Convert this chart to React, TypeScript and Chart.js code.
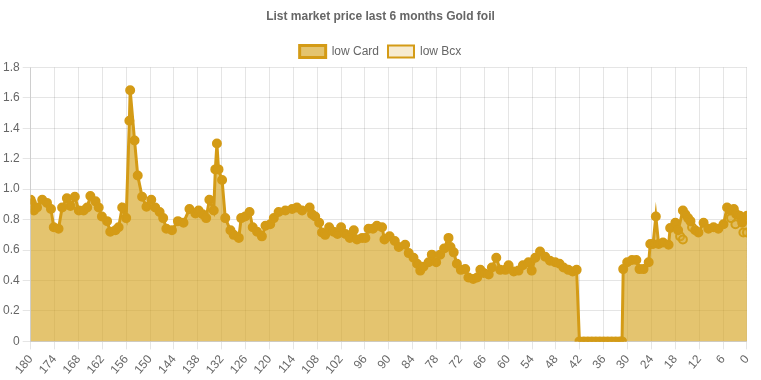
import React, { useEffect, useRef } from "react";
import { Chart, registerables } from "chart.js";

Chart.register(...registerables);

const TITLE = "List market price last 6 months Gold foil";
const SERIES_NAMES = ["low Card", "low Bcx"];

// days ago (x) and price (y) for low Card
const cardDays = [
  180, 179.7, 179.2, 178.4, 177.1, 175.9, 174.9, 174.2, 173.0, 172.1, 170.9, 170.0, 168.9, 167.9, 166.7, 165.8,
  165.0, 163.7, 162.9, 162.1, 160.8, 160.0, 158.7, 157.9, 157.0, 156.0, 155.2, 155.0, 153.9, 153.1, 152.0, 150.9,
  149.7, 148.7, 147.6, 146.7, 145.9, 144.5, 143.0, 141.6, 140.1, 138.6, 137.8, 136.8, 135.9, 135.1, 134.0, 133.6,
  133.2, 132.8, 131.9, 131.1, 129.8, 129.0, 127.7, 127.1, 126.1, 125.0, 124.2, 123.1, 121.9, 121.0, 119.8, 118.9,
  117.7, 116.0, 114.3, 113.1, 111.8, 109.9, 109.3, 108.5, 107.5, 106.8, 106.0, 105.0, 103.9, 102.9, 102.0, 100.9,
  99.8, 98.8, 98.0, 96.7, 95.9, 95.1, 94.0, 93.0, 91.7, 91.1, 89.8, 88.5, 87.5, 85.9, 85.0, 83.8,
  82.9, 82.1, 81.3, 80.0, 79.2, 78.1, 77.1, 76.1, 75.0, 74.5, 73.7, 72.9, 71.9, 70.8, 70.0, 68.8,
  67.8, 67.0, 66.2, 64.9, 64.1, 63.0, 62.0, 60.7, 59.9, 58.6, 57.4, 56.3, 54.9, 54.1, 53.2, 52.0,
  50.7, 49.5, 48.2, 47.1, 46.1, 44.9, 43.8, 42.8, 42.1, 41.0, 40.0, 39.0, 38.0, 37.0, 36.0, 35.0,
  34.0, 33.0, 32.0, 31.4, 31.1, 30.1, 28.9, 27.8, 27.0, 26.0, 24.7, 24.3, 23.6, 22.9, 22.2, 21.1,
  19.7, 19.3, 18.0, 17.3, 16.1, 15.5, 14.8, 14.2, 13.0, 12.2, 10.9, 9.7, 8.4, 7.2, 5.9, 5.0,
  4.2, 3.3, 2.7, 1.8, 1.2, 0,
];
const cardPrices = [
  0.93, 0.91, 0.86, 0.88, 0.93, 0.91, 0.87, 0.75, 0.74, 0.88, 0.94, 0.89, 0.95, 0.86, 0.86, 0.88,
  0.955, 0.92, 0.88, 0.82, 0.79, 0.72, 0.73, 0.75, 0.88, 0.81, 1.45, 1.65, 1.32, 1.09, 0.95, 0.885,
  0.93, 0.88, 0.85, 0.81, 0.74, 0.73, 0.79, 0.78, 0.87, 0.84, 0.86, 0.835, 0.81, 0.93, 0.86, 1.13,
  1.3, 1.13, 1.06, 0.81, 0.73, 0.7, 0.68, 0.81, 0.82, 0.85, 0.75, 0.72, 0.69, 0.76, 0.77, 0.81,
  0.85, 0.86, 0.87, 0.88, 0.86, 0.88, 0.835, 0.82, 0.78, 0.715, 0.7, 0.75, 0.72, 0.705, 0.75, 0.705,
  0.68, 0.73, 0.67, 0.68, 0.68, 0.74, 0.74, 0.76, 0.75, 0.67, 0.69, 0.66, 0.62, 0.635, 0.58, 0.55,
  0.51, 0.465, 0.49, 0.52, 0.57, 0.52, 0.57, 0.61, 0.68, 0.62, 0.585, 0.51, 0.47, 0.475, 0.42, 0.41,
  0.42, 0.47, 0.45, 0.44, 0.485, 0.55, 0.47, 0.47, 0.5, 0.46, 0.465, 0.5, 0.52, 0.465, 0.55, 0.59,
  0.556, 0.53, 0.52, 0.51, 0.486, 0.47, 0.46, 0.47, 0, 0, 0, 0, 0, 0, 0, 0,
  0, 0, 0, 0, 0.475, 0.52, 0.535, 0.535, 0.475, 0.475, 0.52, 0.64, 0.64, 0.82, 0.64, 0.65,
  0.635, 0.745, 0.78, 0.73, 0.86, 0.835, 0.81, 0.79, 0.73, 0.715, 0.78, 0.74, 0.75, 0.74, 0.77, 0.88,
  0.86, 0.87, 0.835, 0.825, 0.78, 0.825,
];

// low Bcx
const bcxDays = [16.8, 16.1, 13.8, 4.0, 2.9, 0.9, 0];
const bcxPrices = [0.69, 0.67, 0.75, 0.81, 0.77, 0.715, 0.715];

const yTicks = [0, 0.2, 0.4, 0.6, 0.8, 1.0, 1.2, 1.4, 1.6, 1.8];

const GOLD = "rgb(212,155,22)";
const GOLD_FILL = "rgba(212,160,23,0.62)";
const GOLD_LIGHT = "rgba(230,190,100,0.3)";

export default function App() {
  const ref = useRef<HTMLCanvasElement | null>(null);

  useEffect(() => {
    document.body.style.margin = "0";
    const ctx = ref.current;
    if (!ctx) return;
    Chart.defaults.font.family = "'Helvetica Neue', Helvetica, Arial, sans-serif";
    Chart.defaults.color = "#666";
    const chart = new Chart(ctx, {
      type: "line",
      data: {
        datasets: [
          {
            label: SERIES_NAMES[0],
            data: cardDays.map((d, i) => ({ x: d, y: cardPrices[i] })),
            borderColor: GOLD,
            backgroundColor: GOLD_FILL,
            pointBackgroundColor: GOLD,
            pointBorderColor: GOLD,
            borderWidth: 3,
            pointRadius: 4,
            pointBorderWidth: 2,
            fill: "origin",
            tension: 0,
          },
          {
            label: SERIES_NAMES[1],
            data: bcxDays.map((d, i) => ({ x: d, y: bcxPrices[i] })),
            borderColor: GOLD,
            backgroundColor: GOLD_LIGHT,
            pointBackgroundColor: GOLD_LIGHT,
            pointBorderColor: GOLD,
            borderWidth: 2,
            pointRadius: 4,
            pointBorderWidth: 2,
            showLine: false,
            fill: false,
          },
        ],
      },
      options: {
        animation: false,
        responsive: true,
        maintainAspectRatio: false,
        plugins: {
          title: {
            display: true,
            text: TITLE,
            font: { size: 12, weight: "bold" },
            color: "#666",
            padding: { top: 9, bottom: 13 },
          },
          legend: {
            labels: {
              boxWidth: 26,
              boxHeight: 12,
              padding: 9,
              font: { size: 12 },
              color: "#666",
            },
          },
          tooltip: { enabled: false },
        },
        scales: {
          x: {
            type: "linear",
            reverse: true,
            min: 0,
            max: 180,
            ticks: {
              stepSize: 6,
              minRotation: 50,
              maxRotation: 50,
              font: { size: 12 },
              color: "#666",
            },
            grid: { color: "rgba(0,0,0,0.1)" },
          },
          y: {
            min: 0,
            max: 1.8,
            afterBuildTicks: (axis: any) => {
              axis.ticks = yTicks.map((v) => ({ value: v }));
            },
            ticks: {
              font: { size: 12 },
              color: "#666",
              callback: (v: any) => (Number(v) === 0 ? "0" : Number(v).toFixed(1)),
            },
            grid: { color: "rgba(0,0,0,0.1)" },
          },
        },
      },
    });
    return () => chart.destroy();
  }, []);

  return (
    <div style={{ position: "relative", width: 761, height: 380 }}>
      <canvas ref={ref} />
    </div>
  );
}
